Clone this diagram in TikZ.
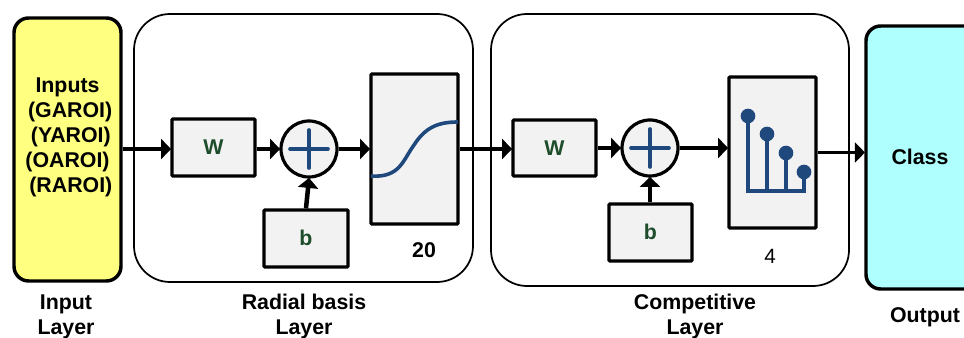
\documentclass[tikz,border=0pt]{standalone}
\usepackage{fontspec}
\setmainfont{Liberation Sans}
\usetikzlibrary{arrows.meta}
\definecolor{boxgray}{HTML}{F2F2F2}
\definecolor{inyellow}{HTML}{FFFF80}
\definecolor{outcyan}{HTML}{AFFFFF}
\definecolor{sigblue}{HTML}{1F497D}
\definecolor{wgreen}{HTML}{1E4D2B}
\tikzset{
  px/.style={x=0.75pt,y=-0.75pt},
  lbl/.style={font=\fontsize{16pt}{18.75pt}\selectfont\bfseries,align=center,inner sep=0pt},
  block/.style={draw=black,line width=2.4pt,fill=boxgray,inner sep=0pt,rounded corners=0.6pt},
  sumnode/.style={circle,draw=black,line width=2.4pt,fill=boxgray,inner sep=0pt,minimum size=42pt},
  conn/.style={draw=black,line width=2.4pt,-{Triangle[length=7.5pt,width=15pt]},shorten >=-0.5pt},
  thickconn/.style={conn,line width=3.4pt},
  blueline/.style={draw=sigblue,line width=2.4pt},
  bluethin/.style={draw=sigblue,line width=2.7pt,line cap=round},
  dot/.style={circle,fill=sigblue,inner sep=0pt,minimum size=11pt},
}
\begin{document}
\begin{tikzpicture}[px]
\useasboundingbox (0,0) rectangle (964,338);
% containers
\node[draw=black,line width=1.3pt,rounded corners=27pt,inner sep=0pt,minimum width=339*0.75pt,minimum height=268*0.75pt] (rbf) at (303.5,148) {};
\node[draw=black,line width=1.3pt,rounded corners=27pt,inner sep=0pt,minimum width=358*0.75pt,minimum height=272*0.75pt] (comp) at (670,150) {};
% input, output
\node[draw=black,line width=2.6pt,fill=inyellow,rounded corners=11pt,inner sep=0pt,minimum width=107*0.75pt,minimum height=263*0.75pt] (in) at (67.5,149.5) {};
\node[draw=black,line width=2.6pt,fill=outcyan,rounded corners=11pt,inner sep=0pt,minimum width=140*0.75pt,minimum height=263*0.75pt] (out) at (936,157.5) {};
\node[lbl] (intext) at (69.5,137) {\hspace*{-3pt}Inputs\\\hspace*{1pt}(GAROI)\\\hspace*{2pt}(YAROI)\\\hspace*{-3pt}(OAROI)\\\hspace*{2pt}(RAROI)};
\node[lbl] (classtext) at (920,157) {Class};
% blocks first stage
\node[block,minimum width=83*0.75pt,minimum height=57*0.75pt] (wa) at (213.5,147.5) {};
\node[lbl,text=wgreen] (walbl) at (213.5,147) {W};
\node[block,minimum width=84*0.75pt,minimum height=57*0.75pt] (ba) at (306,238.5) {};
\node[lbl,text=wgreen] (balbl) at (306,238) {b};
\node[sumnode] (suma) at (309,149) {};
\node[block,minimum width=87*0.75pt,minimum height=150*0.75pt] (fa) at (414.5,149) {};
\node[lbl] (n20) at (424,250) {20};
% blocks second stage
\node[block,minimum width=83*0.75pt,minimum height=56*0.75pt] (wb) at (554.5,148) {};
\node[lbl,text=wgreen] (wblbl) at (554.5,148) {W};
\node[block,minimum width=83*0.75pt,minimum height=57*0.75pt] (bb) at (650.5,232.5) {};
\node[lbl,text=wgreen] (bblbl) at (650.5,232) {b};
\node[sumnode] (sumb) at (650,148) {};
\node[block,minimum width=87*0.75pt,minimum height=151*0.75pt] (fb) at (772.5,152.5) {};
\node[lbl,font=\fontsize{15.5pt}{18pt}\selectfont] (n4) at (770,256) {4};
% plus signs
\draw[bluethin] (suma.center) ++(-19,0) -- ++(38,0);
\draw[bluethin] (suma.center) ++(0,-19) -- ++(0,38);
\draw[bluethin] (sumb.center) ++(-19,0) -- ++(38,0);
\draw[bluethin] (sumb.center) ++(0,-19) -- ++(0,38);
% sigmoid
\draw[blueline,line width=2.7pt] (371,176) .. controls (400,178) and (403,160) .. (414,145) .. controls (425,128) and (437,122) .. (458,122);
% stems
\coordinate (s1) at (748,116);
\coordinate (s2) at (767,134);
\coordinate (s3) at (786,153);
\coordinate (s4) at (804,172);
\draw[blueline] (s1) -- (748,191) -- (804,191) -- (s4);
\draw[blueline] (s2) -- (767,191);
\draw[blueline] (s3) -- (786,191);
\node[dot] at (s1) {};
\node[dot] at (s2) {};
\node[dot] at (s3) {};
\node[dot] at (s4) {};
% connectors
\draw[conn] (in.east |- suma) -- (wa.west |- suma);
\draw[conn] (wa.east |- suma) -- (suma.west);
\draw[thickconn] (ba.north) -- (suma.south);
\draw[conn] (suma.east) -- (fa.west);
\draw[conn] (fa.east) -- (wb.west |- fa.east);
\draw[conn] (wb.east |- sumb) -- (sumb.west);
\draw[conn] (bb.north -| sumb) -- (sumb.south);
\draw[conn] (sumb.east) -- (fb.west |- sumb);
\draw[conn] (fb.east) -- (out.west |- fb.east);
% layer labels
\node[lbl] (l1) at (66,317) {Input\\Layer};
\node[lbl] (l2) at (304,316.5) {Radial basis\\Layer};
\node[lbl] (l3) at (695,316) {Competitive\\Layer};
\node[lbl] (l4) at (925,317) {Output};
\end{tikzpicture}
\end{document}
